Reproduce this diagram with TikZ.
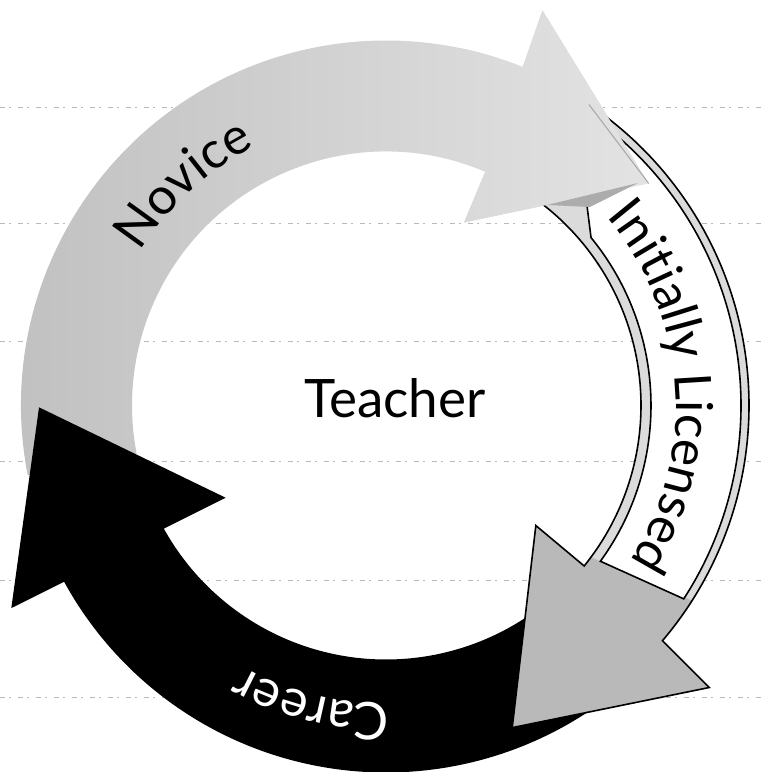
\documentclass[tikz,border=0pt]{standalone}
\usepackage{fontspec}
\setmainfont{Lato}
\usetikzlibrary{decorations.text}
\begin{document}
\begin{tikzpicture}[x=1pt,y=1pt]
\tikzset{
  ruled/.style={draw=gray!55, line width=0.8pt, dash pattern=on 5pt off 4pt on 2pt off 7pt},
  novfill/.style={left color=gray!50, right color=gray!22},
  bandline/.style={draw=black, line width=1.6pt},
  labelfont/.style={font=\fontsize{53}{60}\selectfont},
}
\fill[white] (0,0) rectangle (762,772);
\useasboundingbox (0,0) rectangle (762,772);
% ruled lines of the scanned page
\foreach \yy in {665,549,431,311,192,75} \draw[ruled] (0,\yy) -- (762,\yy);
\begin{scope}[shift={(386,366.5)}]
  \def\novicepath{(191:254) -- (191:365) arc[start angle=191, end angle=68, radius=365] -- (68.4:425) -- (40.2:344) -- (66.9:199) -- (67:254) arc[start angle=67, end angle=191, radius=254] -- cycle}
  % Novice (light gray)
  \path[novfill] \novicepath;
  % Career (black)
  \fill[black] (310:254) -- (310:367) arc[start angle=310, end angle=208.7, radius=367] -- (208.4:426) -- (180.3:347) -- (209.9:185) -- (209:254) arc[start angle=209, end angle=310, radius=254] -- cycle;
  % Initially Licensed: border band
  \fill[gray!28] (60:255) -- (60:363) arc[start angle=60, end angle=-40.4, radius=363] -- (-41.1:429) -- (-68.6:346) -- (-38.7:192) -- (-39:255) arc[start angle=-39, end angle=60, radius=255] -- cycle;
  % head (textured gray)
  \fill[gray!55] (-32.5:363) arc[start angle=-32.5, end angle=-40.4, radius=363] -- (-41.1:429) -- (-68.6:346) -- (-38.7:192) -- (-39:255) arc[start angle=-39, end angle=-36.5, radius=255] -- cycle;
  % white label band
  \filldraw[fill=white, bandline] (39.3:265) -- (58:355) arc[start angle=58, end angle=-33, radius=355] -- (-36:265) arc[start angle=-36, end angle=39.3, radius=265] -- cycle;
  % outline of the Licensed arrow
  \draw[bandline, line join=miter] (60:363) arc[start angle=60, end angle=-40.4, radius=363] -- (-41.1:429) -- (-68.6:346) -- (-38.7:192) -- (-39:255) arc[start angle=-39, end angle=60, radius=255];
  % Novice head lies over the Licensed tail
  \begin{scope}
    \clip (74,105.5) rectangle (400,420);
    \path[novfill] \novicepath;
  \end{scope}
  \draw[gray!70, line width=1pt] (56:363) -- (40.2:344);
  % shadow triangle at the Licensed tail
  \fill[gray!65] (161,200.5) -- (252,222.5) -- (204,198.5) -- cycle;
  % curved labels
  \path[decorate, decoration={text along path, text align=center,
      text={|\fontsize{51}{60}\selectfont|Novice}}]
      (172.5:290) arc[start angle=172.5, end angle=92.5, radius=290];
  \path[decorate, decoration={text along path, text align=center,
      text={|\fontsize{51}{60}\selectfont|Initially Licensed}}]
      (67:290) arc[start angle=67, end angle=-59, radius=290];
  \path[decorate, decoration={text along path, text align=center, text color=white,
      text={|\fontsize{52}{60}\selectfont|Career}}]
      (296:298) arc[start angle=296, end angle=216, radius=298];
\end{scope}
\node[labelfont, anchor=base, inner sep=0pt] (teacher) at (395,354) {Teacher};
\end{tikzpicture}
\end{document}
